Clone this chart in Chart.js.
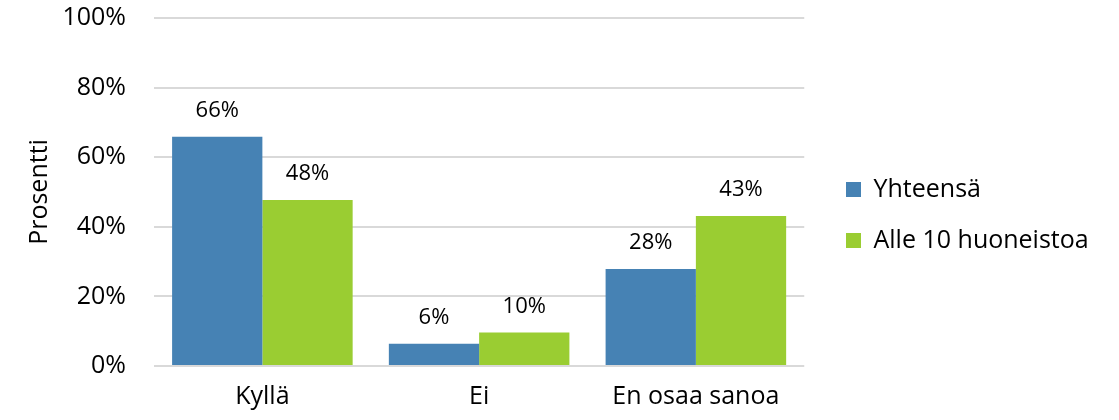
<!DOCTYPE html>
<html>
<head>
<meta charset="utf-8">
<script src="https://cdn.jsdelivr.net/npm/chart.js@4/dist/chart.umd.min.js"></script>
<style>
html,body{margin:0;padding:0;background:#fff;}
#wrap{width:1119px;height:420px;}
</style>
</head>
<body>
<div id="wrap"><canvas id="c" width="1119" height="420"></canvas></div>
<script>
const categories = ["Kyllä", "Ei", "En osaa sanoa"];
const seriesNames = ["Yhteensä", "Alle 10 huoneistoa"];
const totalValues = [65.9, 6.4, 27.9];
const under10Values = [47.7, 9.6, 43.1];
const yTicks = [0, 20, 40, 60, 80, 100];

const FONT = "'Open Sans', sans-serif";

const dataLabels = {
  id: 'dataLabels',
  afterDatasetsDraw(chart) {
    const ctx = chart.ctx;
    ctx.save();
    ctx.font = "22px " + FONT;
    ctx.fillStyle = "#000";
    ctx.textAlign = "center";
    ctx.textBaseline = "middle";
    chart.data.datasets.forEach((ds, i) => {
      chart.getDatasetMeta(i).data.forEach((bar, j) => {
        ctx.fillText(Math.round(ds.data[j]) + "%", bar.x, bar.y - 26);
      });
    });
    ctx.restore();
  }
};

const legendShift = {
  id: 'legendShift',
  afterLayout(chart) {
    const lg = chart.legend;
    const shift = 846 - (chart.chartArea.right + lg.options.labels.padding);
    lg.left += shift;
    lg.right = chart.width;
  }
};

new Chart(document.getElementById('c'), {
  type: 'bar',
  data: {
    labels: categories,
    datasets: [
      { label: seriesNames[0], data: totalValues, backgroundColor: '#4682b4' },
      { label: seriesNames[1], data: under10Values, backgroundColor: '#9acd32' }
    ]
  },
  plugins: [dataLabels, legendShift],
  options: {
    responsive: false,
    animation: false,
    layout: { padding: { left: 19, right: 53, top: 18, bottom: 8 } },
    datasets: { bar: { categoryPercentage: 0.833, barPercentage: 1.0 } },
    plugins: {
      tooltip: { enabled: false },
      legend: {
        position: 'right',
        labels: {
          font: { family: FONT, size: 25 },
          color: '#000',
          boxWidth: 15, boxHeight: 15,
          padding: 26
        }
      }
    },
    scales: {
      x: {
        grid: { display: false, drawTicks: false },
        border: { display: false },
        ticks: { font: { family: FONT, size: 25 }, color: '#000', padding: 16 },
        afterFit(axis) { axis.height = 46; axis.paddingLeft = 0; axis.paddingRight = 0; }
      },
      y: {
        min: 0, max: 100,
        afterBuildTicks(axis) { axis.ticks = yTicks.map(v => ({ value: v })); },
        grid: { color: '#d9d9d9', lineWidth: 2, drawTicks: false, tickLength: 0 },
        border: { display: false },
        ticks: { font: { family: FONT, size: 25 }, color: '#000', padding: 28,
                 callback: v => v + '%' },
        title: { display: true, text: 'Prosentti', font: { family: FONT, size: 25 },
                 color: '#000', padding: { top: 6, bottom: 7 } },
        afterFit(axis) { axis.width = 135; axis.paddingTop = 0; axis.paddingBottom = 0; }
      }
    }
  }
});
</script>
</body>
</html>
